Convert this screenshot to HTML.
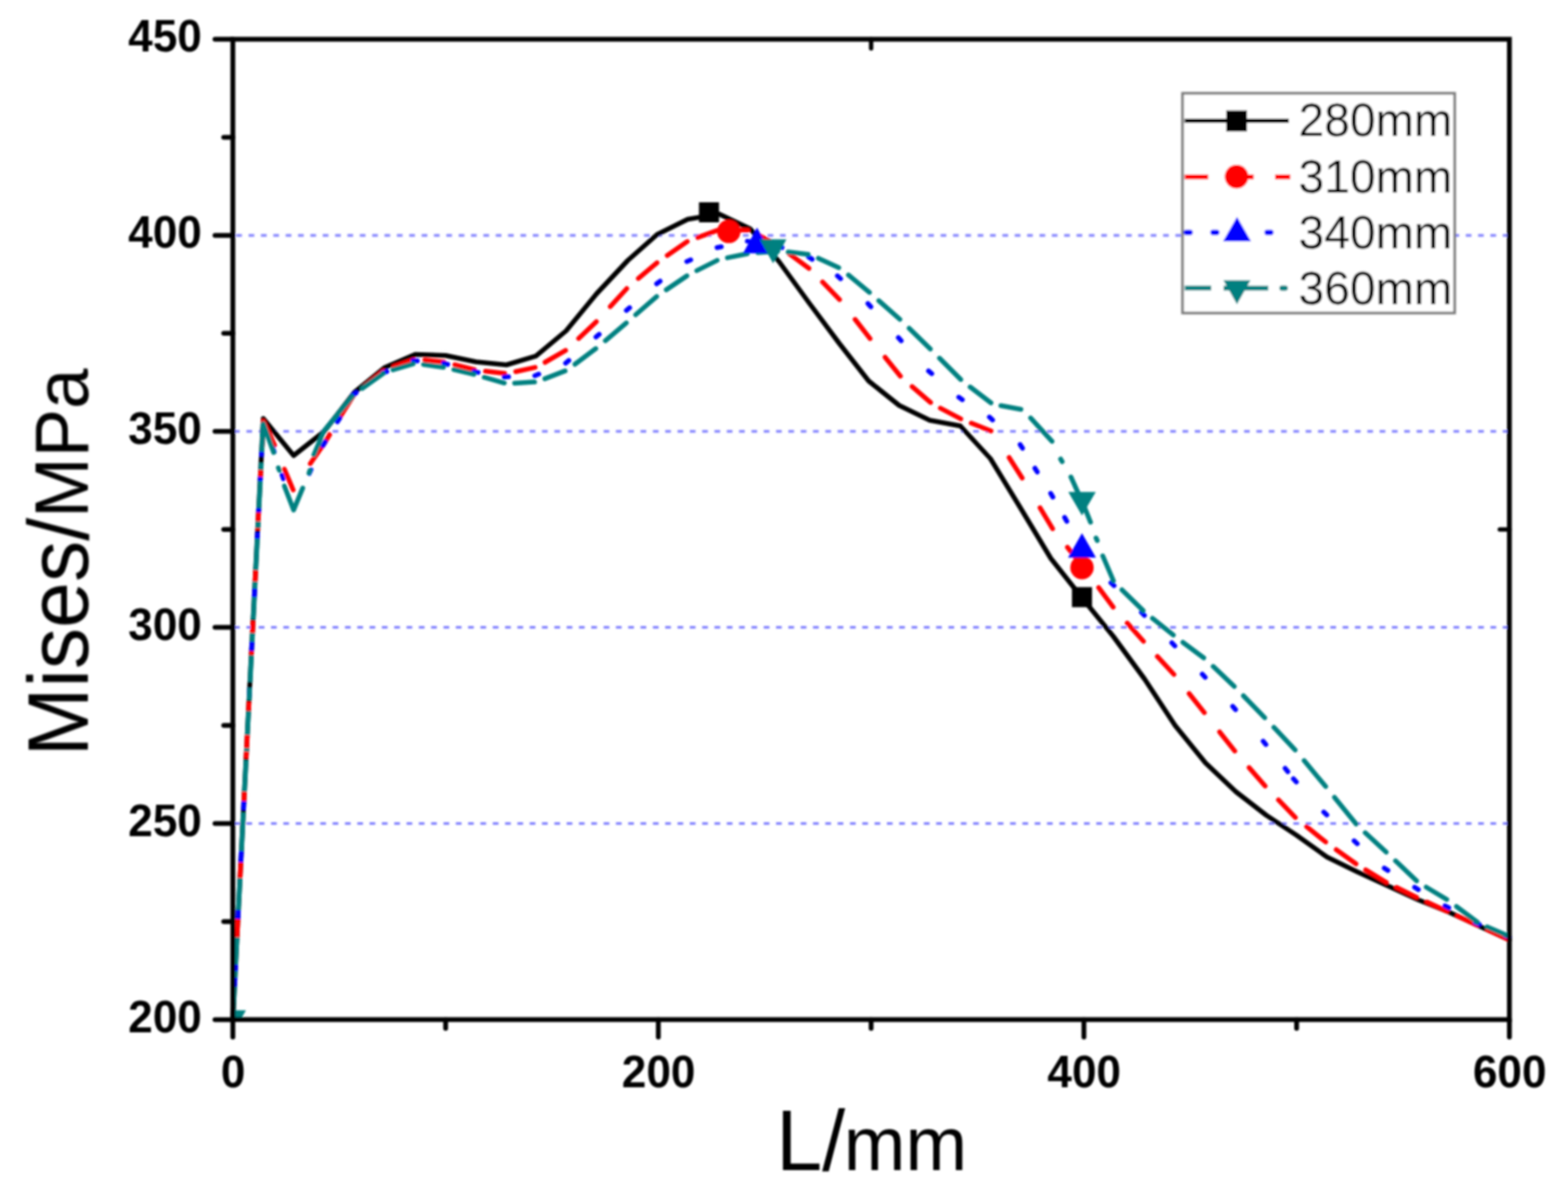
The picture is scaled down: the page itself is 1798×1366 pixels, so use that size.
<!DOCTYPE html>
<html><head><meta charset="utf-8"><title>Mises/MPa vs L/mm</title>
<style>html,body{margin:0;padding:0;background:#fff;}svg{display:block;}</style>
</head><body>
<svg width="1798" height="1366" viewBox="0 0 1798 1366">
<rect width="1798" height="1366" fill="#fff"/>
<defs><filter id="soft" x="0" y="0" width="1798" height="1366" filterUnits="userSpaceOnUse"><feGaussianBlur stdDeviation="0.85"/></filter><clipPath id="plotclip"><rect x="267" y="45" width="1463.8" height="1124.4"/></clipPath></defs>
<g filter="url(#soft)">
<path d="M268.4 944.5H274.9M282.6 944.5H289.1M296.7 944.5H303.2M310.8 944.5H317.3M324.9 944.5H331.4M339.1 944.5H345.6M353.2 944.5H359.7M367.3 944.5H373.8M381.4 944.5H387.9M395.6 944.5H402.1M409.7 944.5H416.2M423.8 944.5H430.3M437.9 944.5H444.4M452.1 944.5H458.6M466.2 944.5H472.7M480.3 944.5H486.8M494.4 944.5H500.9M508.6 944.5H515.1M522.7 944.5H529.2M536.8 944.5H543.3M550.9 944.5H557.4M565.1 944.5H571.6M579.2 944.5H585.7M593.3 944.5H599.8M607.4 944.5H613.9M621.5 944.5H628M635.7 944.5H642.2M649.8 944.5H656.3M663.9 944.5H670.4M678 944.5H684.5M692.2 944.5H698.7M706.3 944.5H712.8M720.4 944.5H726.9M734.5 944.5H741M748.7 944.5H755.2M762.8 944.5H769.3M776.9 944.5H783.4M791 944.5H797.5M805.2 944.5H811.7M819.3 944.5H825.8M833.4 944.5H839.9M847.5 944.5H854M861.7 944.5H868.2M875.8 944.5H882.3M889.9 944.5H896.4M904 944.5H910.5M918.2 944.5H924.7M932.3 944.5H938.8M946.4 944.5H952.9M960.5 944.5H967M974.7 944.5H981.2M988.8 944.5H995.3M1002.9 944.5H1009.4M1017 944.5H1023.5M1031.1 944.5H1037.6M1045.3 944.5H1051.8M1059.4 944.5H1065.9M1073.5 944.5H1080M1087.6 944.5H1094.1M1101.8 944.5H1108.3M1115.9 944.5H1122.4M1130 944.5H1136.5M1144.1 944.5H1150.6M1158.3 944.5H1164.8M1172.4 944.5H1178.9M1186.5 944.5H1193M1200.6 944.5H1207.1M1214.8 944.5H1221.3M1228.9 944.5H1235.4M1243 944.5H1249.5M1257.1 944.5H1263.6M1271.3 944.5H1277.8M1285.4 944.5H1291.9M1299.5 944.5H1306M1313.6 944.5H1320.1M1327.8 944.5H1334.2M1341.9 944.5H1348.4M1356 944.5H1362.5M1370.1 944.5H1376.6M1384.2 944.5H1390.7M1398.4 944.5H1404.9M1412.5 944.5H1419M1426.6 944.5H1433.1M1440.7 944.5H1447.2M1454.9 944.5H1461.4M1469 944.5H1475.5M1483.1 944.5H1489.6M1497.2 944.5H1503.7M1511.4 944.5H1517.9M1525.5 944.5H1532M1539.6 944.5H1546.1M1553.7 944.5H1560.2M1567.9 944.5H1574.4M1582 944.5H1588.5M1596.1 944.5H1602.6M1610.2 944.5H1616.7M1624.4 944.5H1630.9M1638.5 944.5H1645M1652.6 944.5H1659.1M1666.7 944.5H1673.2M1680.9 944.5H1687.4M1695 944.5H1701.5M1709.1 944.5H1715.6M1723.2 944.5H1729.7" stroke="#8080ff" stroke-width="3" fill="none"/>
<path d="M268.4 719.6H274.9M282.6 719.6H289.1M296.7 719.6H303.2M310.8 719.6H317.3M324.9 719.6H331.4M339.1 719.6H345.6M353.2 719.6H359.7M367.3 719.6H373.8M381.4 719.6H387.9M395.6 719.6H402.1M409.7 719.6H416.2M423.8 719.6H430.3M437.9 719.6H444.4M452.1 719.6H458.6M466.2 719.6H472.7M480.3 719.6H486.8M494.4 719.6H500.9M508.6 719.6H515.1M522.7 719.6H529.2M536.8 719.6H543.3M550.9 719.6H557.4M565.1 719.6H571.6M579.2 719.6H585.7M593.3 719.6H599.8M607.4 719.6H613.9M621.5 719.6H628M635.7 719.6H642.2M649.8 719.6H656.3M663.9 719.6H670.4M678 719.6H684.5M692.2 719.6H698.7M706.3 719.6H712.8M720.4 719.6H726.9M734.5 719.6H741M748.7 719.6H755.2M762.8 719.6H769.3M776.9 719.6H783.4M791 719.6H797.5M805.2 719.6H811.7M819.3 719.6H825.8M833.4 719.6H839.9M847.5 719.6H854M861.7 719.6H868.2M875.8 719.6H882.3M889.9 719.6H896.4M904 719.6H910.5M918.2 719.6H924.7M932.3 719.6H938.8M946.4 719.6H952.9M960.5 719.6H967M974.7 719.6H981.2M988.8 719.6H995.3M1002.9 719.6H1009.4M1017 719.6H1023.5M1031.1 719.6H1037.6M1045.3 719.6H1051.8M1059.4 719.6H1065.9M1073.5 719.6H1080M1087.6 719.6H1094.1M1101.8 719.6H1108.3M1115.9 719.6H1122.4M1130 719.6H1136.5M1144.1 719.6H1150.6M1158.3 719.6H1164.8M1172.4 719.6H1178.9M1186.5 719.6H1193M1200.6 719.6H1207.1M1214.8 719.6H1221.3M1228.9 719.6H1235.4M1243 719.6H1249.5M1257.1 719.6H1263.6M1271.3 719.6H1277.8M1285.4 719.6H1291.9M1299.5 719.6H1306M1313.6 719.6H1320.1M1327.8 719.6H1334.2M1341.9 719.6H1348.4M1356 719.6H1362.5M1370.1 719.6H1376.6M1384.2 719.6H1390.7M1398.4 719.6H1404.9M1412.5 719.6H1419M1426.6 719.6H1433.1M1440.7 719.6H1447.2M1454.9 719.6H1461.4M1469 719.6H1475.5M1483.1 719.6H1489.6M1497.2 719.6H1503.7M1511.4 719.6H1517.9M1525.5 719.6H1532M1539.6 719.6H1546.1M1553.7 719.6H1560.2M1567.9 719.6H1574.4M1582 719.6H1588.5M1596.1 719.6H1602.6M1610.2 719.6H1616.7M1624.4 719.6H1630.9M1638.5 719.6H1645M1652.6 719.6H1659.1M1666.7 719.6H1673.2M1680.9 719.6H1687.4M1695 719.6H1701.5M1709.1 719.6H1715.6M1723.2 719.6H1729.7" stroke="#8080ff" stroke-width="3" fill="none"/>
<path d="M268.4 494.8H274.9M282.6 494.8H289.1M296.7 494.8H303.2M310.8 494.8H317.3M324.9 494.8H331.4M339.1 494.8H345.6M353.2 494.8H359.7M367.3 494.8H373.8M381.4 494.8H387.9M395.6 494.8H402.1M409.7 494.8H416.2M423.8 494.8H430.3M437.9 494.8H444.4M452.1 494.8H458.6M466.2 494.8H472.7M480.3 494.8H486.8M494.4 494.8H500.9M508.6 494.8H515.1M522.7 494.8H529.2M536.8 494.8H543.3M550.9 494.8H557.4M565.1 494.8H571.6M579.2 494.8H585.7M593.3 494.8H599.8M607.4 494.8H613.9M621.5 494.8H628M635.7 494.8H642.2M649.8 494.8H656.3M663.9 494.8H670.4M678 494.8H684.5M692.2 494.8H698.7M706.3 494.8H712.8M720.4 494.8H726.9M734.5 494.8H741M748.7 494.8H755.2M762.8 494.8H769.3M776.9 494.8H783.4M791 494.8H797.5M805.2 494.8H811.7M819.3 494.8H825.8M833.4 494.8H839.9M847.5 494.8H854M861.7 494.8H868.2M875.8 494.8H882.3M889.9 494.8H896.4M904 494.8H910.5M918.2 494.8H924.7M932.3 494.8H938.8M946.4 494.8H952.9M960.5 494.8H967M974.7 494.8H981.2M988.8 494.8H995.3M1002.9 494.8H1009.4M1017 494.8H1023.5M1031.1 494.8H1037.6M1045.3 494.8H1051.8M1059.4 494.8H1065.9M1073.5 494.8H1080M1087.6 494.8H1094.1M1101.8 494.8H1108.3M1115.9 494.8H1122.4M1130 494.8H1136.5M1144.1 494.8H1150.6M1158.3 494.8H1164.8M1172.4 494.8H1178.9M1186.5 494.8H1193M1200.6 494.8H1207.1M1214.8 494.8H1221.3M1228.9 494.8H1235.4M1243 494.8H1249.5M1257.1 494.8H1263.6M1271.3 494.8H1277.8M1285.4 494.8H1291.9M1299.5 494.8H1306M1313.6 494.8H1320.1M1327.8 494.8H1334.2M1341.9 494.8H1348.4M1356 494.8H1362.5M1370.1 494.8H1376.6M1384.2 494.8H1390.7M1398.4 494.8H1404.9M1412.5 494.8H1419M1426.6 494.8H1433.1M1440.7 494.8H1447.2M1454.9 494.8H1461.4M1469 494.8H1475.5M1483.1 494.8H1489.6M1497.2 494.8H1503.7M1511.4 494.8H1517.9M1525.5 494.8H1532M1539.6 494.8H1546.1M1553.7 494.8H1560.2M1567.9 494.8H1574.4M1582 494.8H1588.5M1596.1 494.8H1602.6M1610.2 494.8H1616.7M1624.4 494.8H1630.9M1638.5 494.8H1645M1652.6 494.8H1659.1M1666.7 494.8H1673.2M1680.9 494.8H1687.4M1695 494.8H1701.5M1709.1 494.8H1715.6M1723.2 494.8H1729.7" stroke="#8080ff" stroke-width="3" fill="none"/>
<path d="M270.9 269.9H277.4M285.1 269.9H291.6M299.2 269.9H305.8M313.4 269.9H319.9M327.6 269.9H334.1M341.8 269.9H348.3M355.9 269.9H362.4M370.1 269.9H376.6M384.3 269.9H390.8M398.4 269.9H404.9M412.6 269.9H419.1M426.8 269.9H433.3M440.9 269.9H447.4M455.1 269.9H461.6M469.3 269.9H475.8M483.5 269.9H490M497.6 269.9H504.1M511.8 269.9H518.3M526 269.9H532.5M540.1 269.9H546.6M554.3 269.9H560.8M568.5 269.9H575M582.6 269.9H589.1M596.8 269.9H603.3M611 269.9H617.5M625.2 269.9H631.7M639.3 269.9H645.8M653.5 269.9H660M667.7 269.9H674.2M681.8 269.9H688.3M696 269.9H702.5M710.2 269.9H716.7M724.3 269.9H730.8M738.5 269.9H745M752.7 269.9H759.2M766.9 269.9H773.4M781 269.9H787.5M795.2 269.9H801.7M809.4 269.9H815.9M823.5 269.9H830M837.7 269.9H844.2M851.9 269.9H858.4M866 269.9H872.5M880.2 269.9H886.7M894.4 269.9H900.9M908.6 269.9H915.1M922.7 269.9H929.2M936.9 269.9H943.4M951.1 269.9H957.6M965.2 269.9H971.7M979.4 269.9H985.9M993.6 269.9H1000.1M1007.8 269.9H1014.2M1021.9 269.9H1028.4M1036.1 269.9H1042.6M1050.3 269.9H1056.8M1064.4 269.9H1070.9M1078.6 269.9H1085.1M1092.8 269.9H1099.3M1106.9 269.9H1113.4M1121.1 269.9H1127.6M1135.3 269.9H1141.8M1149.5 269.9H1156M1163.6 269.9H1170.1M1177.8 269.9H1184.3M1192 269.9H1198.5M1206.1 269.9H1212.6M1220.3 269.9H1226.8M1234.5 269.9H1241M1248.6 269.9H1255.1M1262.8 269.9H1269.3M1277 269.9H1283.5M1291.2 269.9H1297.7M1305.3 269.9H1311.8M1319.5 269.9H1326M1333.7 269.9H1340.2M1347.8 269.9H1354.3" stroke="#8080ff" stroke-width="3" fill="none"/>
<path d="M1668 269.9H1673.2M1680.8 269.9H1687.3M1694.9 269.9H1701.4M1709 269.9H1715.5M1723.2 269.9H1729.7" stroke="#8080ff" stroke-width="3" fill="none"/>
<path d="M267 1169.4 L301.9 480 L336.7 522.5 L371.6 495 L406.4 450 L441.3 421.5 L476.1 406.6 L511 407.7 L545.8 415 L580.7 418.5 L614.5 408.4 L649.1 379.5 L684 337 L720.1 298.5 L753.4 269 L788.6 251.5 L824.6 245.4 L860.3 262.5 L893.3 300 L928.2 348 L962.5 394 L996.1 437 L1031.1 465 L1066.1 482 L1101.2 488.5 L1135.7 526 L1170.4 583 L1205 640.5 L1240.6 685.5 L1276.7 730 L1312.6 779 L1347.4 832 L1382.3 875 L1417.1 908 L1452 935 L1486.8 958 L1521.7 983 L1556.5 1000 L1591.4 1016 L1626.2 1032 L1661.1 1046 L1695.9 1062 L1730.8 1078" fill="none" stroke="#000000" stroke-width="5.5" stroke-linejoin="round" stroke-linecap="round"/>
<line x1="299" y1="539" x2="298.6" y2="547" stroke="#ff0000" stroke-width="5.5" stroke-linecap="butt"/>
<line x1="296.5" y1="587.6" x2="296" y2="598" stroke="#ff0000" stroke-width="5.5" stroke-linecap="butt"/>
<line x1="295.6" y1="605.5" x2="295.5" y2="608" stroke="#ff0000" stroke-width="5.5" stroke-linecap="butt"/>
<line x1="293.2" y1="654" x2="292.5" y2="667" stroke="#ff0000" stroke-width="5.5" stroke-linecap="butt"/>
<line x1="290.2" y1="712" x2="289.5" y2="726" stroke="#ff0000" stroke-width="5.5" stroke-linecap="butt"/>
<line x1="288.5" y1="746.5" x2="288.2" y2="751.6" stroke="#ff0000" stroke-width="5.5" stroke-linecap="butt"/>
<line x1="285.5" y1="805" x2="285" y2="815.6" stroke="#ff0000" stroke-width="5.5" stroke-linecap="butt"/>
<line x1="283.6" y1="843" x2="282.2" y2="870" stroke="#ff0000" stroke-width="5.5" stroke-linecap="butt"/>
<line x1="280.3" y1="908" x2="279.7" y2="919" stroke="#ff0000" stroke-width="5.5" stroke-linecap="butt"/>
<line x1="276.2" y1="989" x2="275.2" y2="1007" stroke="#ff0000" stroke-width="5.5" stroke-linecap="butt"/>
<line x1="272.9" y1="1054" x2="271.8" y2="1075" stroke="#ff0000" stroke-width="5.5" stroke-linecap="butt"/>
<line x1="417.9" y1="442.8" x2="439.7" y2="425.3" stroke="#ff0000" stroke-width="5.5" stroke-linecap="round"/>
<line x1="451.7" y1="420.4" x2="474.2" y2="412.7" stroke="#ff0000" stroke-width="5.5" stroke-linecap="round"/>
<line x1="487.1" y1="413.1" x2="509" y2="415.3" stroke="#ff0000" stroke-width="5.5" stroke-linecap="round"/>
<line x1="521.6" y1="418.3" x2="543.9" y2="424" stroke="#ff0000" stroke-width="5.5" stroke-linecap="round"/>
<line x1="556.7" y1="425.8" x2="578.7" y2="428.3" stroke="#ff0000" stroke-width="5.5" stroke-linecap="round"/>
<line x1="591.4" y1="426.2" x2="613.6" y2="421.4" stroke="#ff0000" stroke-width="5.5" stroke-linecap="round"/>
<line x1="625" y1="415.5" x2="648.6" y2="401.8" stroke="#ff0000" stroke-width="5.5" stroke-linecap="round"/>
<line x1="663.5" y1="388.2" x2="683.8" y2="368.9" stroke="#ff0000" stroke-width="5.5" stroke-linecap="round"/>
<line x1="699.8" y1="351.6" x2="718.7" y2="331" stroke="#ff0000" stroke-width="5.5" stroke-linecap="round"/>
<line x1="732" y1="319.4" x2="753.4" y2="301.3" stroke="#ff0000" stroke-width="5.5" stroke-linecap="round"/>
<line x1="765.1" y1="293" x2="788.1" y2="277.1" stroke="#ff0000" stroke-width="5.5" stroke-linecap="round"/>
<line x1="800.1" y1="272.3" x2="822.8" y2="264.2" stroke="#ff0000" stroke-width="5.5" stroke-linecap="round"/>
<line x1="835.6" y1="263.7" x2="857.5" y2="264" stroke="#ff0000" stroke-width="5.5" stroke-linecap="round"/>
<line x1="869.1" y1="269.3" x2="892.6" y2="282" stroke="#ff0000" stroke-width="5.5" stroke-linecap="round"/>
<line x1="905.1" y1="291.1" x2="927.6" y2="307.8" stroke="#ff0000" stroke-width="5.5" stroke-linecap="round"/>
<line x1="943.2" y1="323.4" x2="962.7" y2="343.6" stroke="#ff0000" stroke-width="5.5" stroke-linecap="round"/>
<line x1="980.5" y1="366.3" x2="997.7" y2="388.4" stroke="#ff0000" stroke-width="5.5" stroke-linecap="round"/>
<line x1="1014.9" y1="409.7" x2="1032.5" y2="431.4" stroke="#ff0000" stroke-width="5.5" stroke-linecap="round"/>
<line x1="1045.9" y1="443.4" x2="1067.1" y2="461.7" stroke="#ff0000" stroke-width="5.5" stroke-linecap="round"/>
<line x1="1078.3" y1="468.1" x2="1101.7" y2="480.4" stroke="#ff0000" stroke-width="5.5" stroke-linecap="round"/>
<line x1="1113.7" y1="485.3" x2="1136.4" y2="494.3" stroke="#ff0000" stroke-width="5.5" stroke-linecap="round"/>
<line x1="1157.1" y1="524.7" x2="1172.1" y2="548.3" stroke="#ff0000" stroke-width="5.5" stroke-linecap="round"/>
<line x1="1192.6" y1="582.3" x2="1207" y2="606.3" stroke="#ff0000" stroke-width="5.5" stroke-linecap="round"/>
<line x1="1224" y1="627.7" x2="1241.6" y2="649.4" stroke="#ff0000" stroke-width="5.5" stroke-linecap="round"/>
<line x1="1259.8" y1="673.9" x2="1276.5" y2="696.4" stroke="#ff0000" stroke-width="5.5" stroke-linecap="round"/>
<line x1="1292.6" y1="714.6" x2="1311.2" y2="735.5" stroke="#ff0000" stroke-width="5.5" stroke-linecap="round"/>
<line x1="1327.1" y1="752.9" x2="1346.1" y2="773.5" stroke="#ff0000" stroke-width="5.5" stroke-linecap="round"/>
<line x1="1363.6" y1="795.5" x2="1381" y2="817.4" stroke="#ff0000" stroke-width="5.5" stroke-linecap="round"/>
<line x1="1398.5" y1="839.5" x2="1415.9" y2="861.4" stroke="#ff0000" stroke-width="5.5" stroke-linecap="round"/>
<line x1="1432.3" y1="880.4" x2="1450.7" y2="901.5" stroke="#ff0000" stroke-width="5.5" stroke-linecap="round"/>
<line x1="1466" y1="917.4" x2="1485.4" y2="937.6" stroke="#ff0000" stroke-width="5.5" stroke-linecap="round"/>
<line x1="1498.3" y1="948.2" x2="1520.1" y2="965.7" stroke="#ff0000" stroke-width="5.5" stroke-linecap="round"/>
<line x1="1532.2" y1="974.5" x2="1554.9" y2="990.8" stroke="#ff0000" stroke-width="5.5" stroke-linecap="round"/>
<line x1="1566" y1="997.7" x2="1589.7" y2="1012" stroke="#ff0000" stroke-width="5.5" stroke-linecap="round"/>
<line x1="1601.3" y1="1017.8" x2="1624.4" y2="1029.1" stroke="#ff0000" stroke-width="5.5" stroke-linecap="round"/>
<line x1="1636.2" y1="1034.6" x2="1659.3" y2="1045.2" stroke="#ff0000" stroke-width="5.5" stroke-linecap="round"/>
<line x1="1671.1" y1="1050.6" x2="1694.1" y2="1061.2" stroke="#ff0000" stroke-width="5.5" stroke-linecap="round"/>
<line x1="1705.9" y1="1066.6" x2="1729" y2="1077.2" stroke="#ff0000" stroke-width="5.5" stroke-linecap="round"/>
<polyline points="300.6,512 301.9,483 314.8,510.5" fill="none" stroke="#ff0000" stroke-width="5.5" stroke-linecap="round" stroke-linejoin="round"/>
<line x1="326.1" y1="538" x2="336.2" y2="562" stroke="#ff0000" stroke-width="5.5" stroke-linecap="round"/>
<polyline points="355.8,531.7 371.6,509 378,498.5" fill="none" stroke="#ff0000" stroke-width="5.5" stroke-linecap="round" stroke-linejoin="round"/>
<line x1="388.5" y1="480.5" x2="405.4" y2="453.5" stroke="#ff0000" stroke-width="5.5" stroke-linecap="round"/>
<line x1="300" y1="518" x2="299.7" y2="523.5" stroke="#0000ff" stroke-width="5.5" stroke-linecap="butt"/>
<line x1="298.6" y1="547" x2="298.3" y2="552" stroke="#0000ff" stroke-width="5.5" stroke-linecap="butt"/>
<line x1="296.8" y1="582.5" x2="296.5" y2="587.6" stroke="#0000ff" stroke-width="5.5" stroke-linecap="butt"/>
<line x1="295.3" y1="610.7" x2="295" y2="618" stroke="#0000ff" stroke-width="5.5" stroke-linecap="butt"/>
<line x1="292.1" y1="675" x2="291.6" y2="685" stroke="#0000ff" stroke-width="5.5" stroke-linecap="butt"/>
<line x1="289" y1="736" x2="288.4" y2="746.5" stroke="#0000ff" stroke-width="5.5" stroke-linecap="butt"/>
<line x1="286.3" y1="789" x2="285.7" y2="800" stroke="#0000ff" stroke-width="5.5" stroke-linecap="butt"/>
<line x1="279.7" y1="919" x2="279.2" y2="929" stroke="#0000ff" stroke-width="5.5" stroke-linecap="butt"/>
<line x1="276.8" y1="976" x2="276.1" y2="989" stroke="#0000ff" stroke-width="5.5" stroke-linecap="butt"/>
<line x1="273.4" y1="1043.5" x2="272.9" y2="1054" stroke="#0000ff" stroke-width="5.5" stroke-linecap="butt"/>
<line x1="270.2" y1="1106" x2="269.8" y2="1114" stroke="#0000ff" stroke-width="5.5" stroke-linecap="butt"/>
<line x1="269.5" y1="1121" x2="268.9" y2="1132" stroke="#0000ff" stroke-width="5.5" stroke-linecap="butt"/>
<line x1="370.3" y1="511.1" x2="372.9" y2="506.9" stroke="#0000ff" stroke-width="5.5" stroke-linecap="round"/>
<line x1="386.9" y1="483.8" x2="389.6" y2="479.6" stroke="#0000ff" stroke-width="5.5" stroke-linecap="round"/>
<line x1="404.4" y1="453.5" x2="408.4" y2="450.5" stroke="#0000ff" stroke-width="5.5" stroke-linecap="round"/>
<line x1="438.9" y1="427.9" x2="443.6" y2="426.1" stroke="#0000ff" stroke-width="5.5" stroke-linecap="round"/>
<line x1="473.6" y1="413.7" x2="478.6" y2="414.1" stroke="#0000ff" stroke-width="5.5" stroke-linecap="round"/>
<line x1="508.6" y1="416.6" x2="513.4" y2="418" stroke="#0000ff" stroke-width="5.5" stroke-linecap="round"/>
<line x1="543.4" y1="426.3" x2="548.3" y2="427.1" stroke="#0000ff" stroke-width="5.5" stroke-linecap="round"/>
<line x1="578.2" y1="432.5" x2="583.2" y2="432.1" stroke="#0000ff" stroke-width="5.5" stroke-linecap="round"/>
<line x1="613.2" y1="431" x2="617.8" y2="429" stroke="#0000ff" stroke-width="5.5" stroke-linecap="round"/>
<line x1="648.5" y1="416.6" x2="652.3" y2="413.4" stroke="#0000ff" stroke-width="5.5" stroke-linecap="round"/>
<line x1="683.3" y1="386.6" x2="687.1" y2="383.4" stroke="#0000ff" stroke-width="5.5" stroke-linecap="round"/>
<line x1="718.2" y1="356.1" x2="722" y2="352.9" stroke="#0000ff" stroke-width="5.5" stroke-linecap="round"/>
<line x1="752.9" y1="325.5" x2="757" y2="322.5" stroke="#0000ff" stroke-width="5.5" stroke-linecap="round"/>
<line x1="787.5" y1="300" x2="792.1" y2="298" stroke="#0000ff" stroke-width="5.5" stroke-linecap="round"/>
<line x1="822.2" y1="284" x2="827.1" y2="283" stroke="#0000ff" stroke-width="5.5" stroke-linecap="round"/>
<line x1="857" y1="276.6" x2="862" y2="277.4" stroke="#0000ff" stroke-width="5.5" stroke-linecap="round"/>
<line x1="892" y1="282.1" x2="896.7" y2="283.9" stroke="#0000ff" stroke-width="5.5" stroke-linecap="round"/>
<line x1="927.1" y1="294.6" x2="931.3" y2="297.4" stroke="#0000ff" stroke-width="5.5" stroke-linecap="round"/>
<line x1="960.2" y1="316.3" x2="963.9" y2="319.7" stroke="#0000ff" stroke-width="5.5" stroke-linecap="round"/>
<line x1="995.2" y1="348.1" x2="998.6" y2="351.9" stroke="#0000ff" stroke-width="5.5" stroke-linecap="round"/>
<line x1="1030.1" y1="387.2" x2="1033.4" y2="390.8" stroke="#0000ff" stroke-width="5.5" stroke-linecap="round"/>
<line x1="1064.7" y1="425.4" x2="1068.5" y2="428.6" stroke="#0000ff" stroke-width="5.5" stroke-linecap="round"/>
<line x1="1099.4" y1="455.6" x2="1103.5" y2="458.4" stroke="#0000ff" stroke-width="5.5" stroke-linecap="round"/>
<line x1="1134.5" y1="478.3" x2="1138.2" y2="481.7" stroke="#0000ff" stroke-width="5.5" stroke-linecap="round"/>
<line x1="1169.8" y1="509.9" x2="1172.5" y2="514.1" stroke="#0000ff" stroke-width="5.5" stroke-linecap="round"/>
<line x1="1186.7" y1="537" x2="1189.4" y2="541.3" stroke="#0000ff" stroke-width="5.5" stroke-linecap="round"/>
<line x1="1204.8" y1="565.8" x2="1207.3" y2="570.2" stroke="#0000ff" stroke-width="5.5" stroke-linecap="round"/>
<line x1="1220.8" y1="593.5" x2="1223.3" y2="597.8" stroke="#0000ff" stroke-width="5.5" stroke-linecap="round"/>
<line x1="1239.3" y1="626.1" x2="1242.5" y2="629.9" stroke="#0000ff" stroke-width="5.5" stroke-linecap="round"/>
<line x1="1273.9" y1="668.3" x2="1277.5" y2="671.7" stroke="#0000ff" stroke-width="5.5" stroke-linecap="round"/>
<line x1="1308.8" y1="702.2" x2="1312.3" y2="705.8" stroke="#0000ff" stroke-width="5.5" stroke-linecap="round"/>
<line x1="1343.7" y1="737.2" x2="1347.2" y2="740.8" stroke="#0000ff" stroke-width="5.5" stroke-linecap="round"/>
<line x1="1378.6" y1="773.2" x2="1382" y2="776.8" stroke="#0000ff" stroke-width="5.5" stroke-linecap="round"/>
<line x1="1413.5" y1="810.1" x2="1416.8" y2="813.9" stroke="#0000ff" stroke-width="5.5" stroke-linecap="round"/>
<line x1="1448.4" y1="850.1" x2="1451.6" y2="853.9" stroke="#0000ff" stroke-width="5.5" stroke-linecap="round"/>
<line x1="1473.6" y1="881.1" x2="1476.7" y2="885" stroke="#0000ff" stroke-width="5.5" stroke-linecap="round"/>
<line x1="1483.1" y1="893.2" x2="1486.5" y2="896.8" stroke="#0000ff" stroke-width="5.5" stroke-linecap="round"/>
<line x1="1517.9" y1="931.3" x2="1521.5" y2="934.7" stroke="#0000ff" stroke-width="5.5" stroke-linecap="round"/>
<line x1="1552.7" y1="964.3" x2="1556.4" y2="967.7" stroke="#0000ff" stroke-width="5.5" stroke-linecap="round"/>
<line x1="1587.3" y1="995.7" x2="1591.5" y2="998.3" stroke="#0000ff" stroke-width="5.5" stroke-linecap="round"/>
<line x1="1622.1" y1="1017.7" x2="1626.4" y2="1020.3" stroke="#0000ff" stroke-width="5.5" stroke-linecap="round"/>
<line x1="1656.9" y1="1038.8" x2="1661.3" y2="1041.2" stroke="#0000ff" stroke-width="5.5" stroke-linecap="round"/>
<line x1="1691.7" y1="1058" x2="1696.2" y2="1060" stroke="#0000ff" stroke-width="5.5" stroke-linecap="round"/>
<line x1="1726.2" y1="1073" x2="1730.8" y2="1075" stroke="#0000ff" stroke-width="5.5" stroke-linecap="round"/>
<line x1="313" y1="513.5" x2="314.6" y2="518.3" stroke="#0000ff" stroke-width="5" stroke-linecap="round"/>
<line x1="323.2" y1="544.7" x2="324.8" y2="549.5" stroke="#0000ff" stroke-width="5" stroke-linecap="round"/>
<line x1="354.7" y1="543.3" x2="356.9" y2="538.7" stroke="#0000ff" stroke-width="5" stroke-linecap="round"/>
<line x1="301.8" y1="488" x2="300.2" y2="518" stroke="#008080" stroke-width="5.5" stroke-linecap="butt"/>
<line x1="299.6" y1="531" x2="299.1" y2="539" stroke="#008080" stroke-width="5.5" stroke-linecap="butt"/>
<line x1="298.5" y1="552" x2="296.9" y2="582.5" stroke="#008080" stroke-width="5.5" stroke-linecap="butt"/>
<line x1="296.1" y1="598" x2="295.8" y2="605.5" stroke="#008080" stroke-width="5.5" stroke-linecap="butt"/>
<line x1="295.1" y1="618" x2="293.3" y2="654" stroke="#008080" stroke-width="5.5" stroke-linecap="butt"/>
<line x1="292.6" y1="667" x2="292.2" y2="675" stroke="#008080" stroke-width="5.5" stroke-linecap="butt"/>
<line x1="291.7" y1="685" x2="290.4" y2="710.6" stroke="#008080" stroke-width="5.5" stroke-linecap="butt"/>
<line x1="289.6" y1="726" x2="289.1" y2="736" stroke="#008080" stroke-width="5.5" stroke-linecap="butt"/>
<line x1="288.3" y1="751.6" x2="286.8" y2="782" stroke="#008080" stroke-width="5.5" stroke-linecap="butt"/>
<line x1="286.4" y1="789" x2="285.7" y2="803" stroke="#008080" stroke-width="5.5" stroke-linecap="butt"/>
<line x1="285" y1="815.6" x2="283.6" y2="843" stroke="#008080" stroke-width="5.5" stroke-linecap="butt"/>
<line x1="282.9" y1="858" x2="282.7" y2="862" stroke="#008080" stroke-width="5.5" stroke-linecap="butt"/>
<line x1="282.2" y1="872" x2="280.3" y2="908" stroke="#008080" stroke-width="5.5" stroke-linecap="butt"/>
<line x1="279.1" y1="932" x2="276.9" y2="976" stroke="#008080" stroke-width="5.5" stroke-linecap="butt"/>
<line x1="275.3" y1="1007" x2="273.4" y2="1043.5" stroke="#008080" stroke-width="5.5" stroke-linecap="butt"/>
<line x1="271.8" y1="1075" x2="270.2" y2="1106" stroke="#008080" stroke-width="5.5" stroke-linecap="butt"/>
<line x1="269.8" y1="1114" x2="269.5" y2="1121" stroke="#008080" stroke-width="5.5" stroke-linecap="butt"/>
<line x1="268.9" y1="1132" x2="267.2" y2="1166" stroke="#008080" stroke-width="5.5" stroke-linecap="butt"/>
<line x1="415.4" y1="445.5" x2="439.2" y2="428.5" stroke="#008080" stroke-width="5.5" stroke-linecap="round"/>
<line x1="450.6" y1="424.2" x2="473.7" y2="417.4" stroke="#008080" stroke-width="5.5" stroke-linecap="round"/>
<line x1="485.6" y1="418.1" x2="508.5" y2="421.3" stroke="#008080" stroke-width="5.5" stroke-linecap="round"/>
<line x1="520.4" y1="423.9" x2="543.4" y2="429.4" stroke="#008080" stroke-width="5.5" stroke-linecap="round"/>
<line x1="555.2" y1="432.7" x2="578.3" y2="439.3" stroke="#008080" stroke-width="5.5" stroke-linecap="round"/>
<line x1="590.1" y1="439.5" x2="613" y2="438.1" stroke="#008080" stroke-width="5.5" stroke-linecap="round"/>
<line x1="624.8" y1="434.4" x2="648" y2="425.4" stroke="#008080" stroke-width="5.5" stroke-linecap="round"/>
<line x1="659.3" y1="417.8" x2="683.2" y2="399.8" stroke="#008080" stroke-width="5.5" stroke-linecap="round"/>
<line x1="694.1" y1="390.8" x2="718.2" y2="370.3" stroke="#008080" stroke-width="5.5" stroke-linecap="round"/>
<line x1="728.9" y1="361" x2="753" y2="340.1" stroke="#008080" stroke-width="5.5" stroke-linecap="round"/>
<line x1="764" y1="332.4" x2="787.7" y2="316.4" stroke="#008080" stroke-width="5.5" stroke-linecap="round"/>
<line x1="799" y1="310.4" x2="822.4" y2="298.6" stroke="#008080" stroke-width="5.5" stroke-linecap="round"/>
<line x1="834.1" y1="295.6" x2="857" y2="291" stroke="#008080" stroke-width="5.5" stroke-linecap="round"/>
<line x1="869" y1="289.8" x2="891.8" y2="288.2" stroke="#008080" stroke-width="5.5" stroke-linecap="round"/>
<line x1="903.8" y1="289.1" x2="926.7" y2="291.7" stroke="#008080" stroke-width="5.5" stroke-linecap="round"/>
<line x1="938.4" y1="296.2" x2="961.8" y2="307" stroke="#008080" stroke-width="5.5" stroke-linecap="round"/>
<line x1="972.9" y1="315.4" x2="997" y2="335.4" stroke="#008080" stroke-width="5.5" stroke-linecap="round"/>
<line x1="1007.7" y1="344.9" x2="1031.9" y2="366.3" stroke="#008080" stroke-width="5.5" stroke-linecap="round"/>
<line x1="1042.5" y1="376.5" x2="1066.8" y2="400.3" stroke="#008080" stroke-width="5.5" stroke-linecap="round"/>
<line x1="1077.3" y1="410.8" x2="1101.7" y2="435.2" stroke="#008080" stroke-width="5.5" stroke-linecap="round"/>
<line x1="1112.4" y1="443.8" x2="1136.3" y2="462" stroke="#008080" stroke-width="5.5" stroke-linecap="round"/>
<line x1="1147.7" y1="465.3" x2="1170.7" y2="469.5" stroke="#008080" stroke-width="5.5" stroke-linecap="round"/>
<line x1="1181.8" y1="479.4" x2="1206.3" y2="506.2" stroke="#008080" stroke-width="5.5" stroke-linecap="round"/>
<line x1="1286.5" y1="676.5" x2="1310.8" y2="700.3" stroke="#008080" stroke-width="5.5" stroke-linecap="round"/>
<line x1="1321.5" y1="709.2" x2="1345.5" y2="728.4" stroke="#008080" stroke-width="5.5" stroke-linecap="round"/>
<line x1="1356.4" y1="736.7" x2="1380.3" y2="754.5" stroke="#008080" stroke-width="5.5" stroke-linecap="round"/>
<line x1="1391.1" y1="764.3" x2="1415.3" y2="787.3" stroke="#008080" stroke-width="5.5" stroke-linecap="round"/>
<line x1="1425.8" y1="798" x2="1450.2" y2="823.2" stroke="#008080" stroke-width="5.5" stroke-linecap="round"/>
<line x1="1460.7" y1="834.2" x2="1485.1" y2="860.2" stroke="#008080" stroke-width="5.5" stroke-linecap="round"/>
<line x1="1495.4" y1="872.3" x2="1520.1" y2="902.1" stroke="#008080" stroke-width="5.5" stroke-linecap="round"/>
<line x1="1530.2" y1="914.5" x2="1555" y2="945.1" stroke="#008080" stroke-width="5.5" stroke-linecap="round"/>
<line x1="1565.4" y1="955.1" x2="1589.5" y2="977.3" stroke="#008080" stroke-width="5.5" stroke-linecap="round"/>
<line x1="1600.2" y1="987.3" x2="1624.4" y2="1010.3" stroke="#008080" stroke-width="5.5" stroke-linecap="round"/>
<line x1="1635.4" y1="1017.5" x2="1659" y2="1031.7" stroke="#008080" stroke-width="5.5" stroke-linecap="round"/>
<line x1="1670.1" y1="1039.7" x2="1693.9" y2="1057.5" stroke="#008080" stroke-width="5.5" stroke-linecap="round"/>
<line x1="1705.2" y1="1063" x2="1728.5" y2="1073" stroke="#008080" stroke-width="5.5" stroke-linecap="round"/>
<polyline points="300.7,500 301.9,486 313.8,519" fill="none" stroke="#008080" stroke-width="5.5" stroke-linecap="round" stroke-linejoin="round"/>
<line x1="319.2" y1="536.5" x2="320.4" y2="539.5" stroke="#008080" stroke-width="5.5" stroke-linecap="round"/>
<polyline points="326.1,557.4 336.7,585 347.1,559.9" fill="none" stroke="#008080" stroke-width="5.5" stroke-linecap="round" stroke-linejoin="round"/>
<line x1="354.3" y1="542.5" x2="355.3" y2="539.5" stroke="#008080" stroke-width="5.5" stroke-linecap="round"/>
<polyline points="359.9,521.5 371.6,494 403.9,455" fill="none" stroke="#008080" stroke-width="5.5" stroke-linecap="round" stroke-linejoin="round"/>
<line x1="1216.2" y1="526.5" x2="1218" y2="529.5" stroke="#008080" stroke-width="5.5" stroke-linecap="round"/>
<polyline points="1228,547 1242.9,580 1250.5,599" fill="none" stroke="#008080" stroke-width="5.5" stroke-linecap="round" stroke-linejoin="round"/>
<line x1="1256.8" y1="617" x2="1258.2" y2="620" stroke="#008080" stroke-width="5.5" stroke-linecap="round"/>
<line x1="1264.5" y1="637.5" x2="1276.7" y2="666" stroke="#008080" stroke-width="5.5" stroke-linecap="round"/>
<rect x="801.5" y="232" width="23" height="23" fill="#000000"/>
<rect x="1229.2" y="673.4" width="23" height="23" fill="#000000"/>
<circle cx="835.7" cy="265.4" r="13.4" fill="#ff0000"/>
<circle cx="1240.7" cy="651.1" r="13.4" fill="#ff0000"/>
<polygon points="868.1,261.1 852.1,290.6 884.1,290.6" fill="#0000ff"/>
<polygon points="1240.7,611.5 1224.7,639.5 1256.7,639.5" fill="#0000ff"/>
<polygon points="871.2,274.6 901.8,274.6 886.5,302.1" fill="#008080"/>
<polygon points="1225,564.3 1256.5,564.3 1240.7,591.3" fill="#008080"/>
<g clip-path="url(#plotclip)">
<polygon points="252,1158.8 282,1158.8 267,1185.2" fill="#008080"/>
</g>
<rect x="267" y="45" width="1463.8" height="1124.4" fill="none" stroke="#000" stroke-width="5.5"/>
<line x1="246.5" y1="1169.4" x2="267" y2="1169.4" stroke="#000" stroke-width="5.5" stroke-linecap="round"/>
<line x1="256.5" y1="1057" x2="267" y2="1057" stroke="#000" stroke-width="5.5" stroke-linecap="round"/>
<line x1="246.5" y1="944.5" x2="267" y2="944.5" stroke="#000" stroke-width="5.5" stroke-linecap="round"/>
<line x1="256.5" y1="832.1" x2="267" y2="832.1" stroke="#000" stroke-width="5.5" stroke-linecap="round"/>
<line x1="246.5" y1="719.6" x2="267" y2="719.6" stroke="#000" stroke-width="5.5" stroke-linecap="round"/>
<line x1="256.5" y1="607.2" x2="267" y2="607.2" stroke="#000" stroke-width="5.5" stroke-linecap="round"/>
<line x1="246.5" y1="494.8" x2="267" y2="494.8" stroke="#000" stroke-width="5.5" stroke-linecap="round"/>
<line x1="256.5" y1="382.3" x2="267" y2="382.3" stroke="#000" stroke-width="5.5" stroke-linecap="round"/>
<line x1="246.5" y1="269.9" x2="267" y2="269.9" stroke="#000" stroke-width="5.5" stroke-linecap="round"/>
<line x1="256.5" y1="157.4" x2="267" y2="157.4" stroke="#000" stroke-width="5.5" stroke-linecap="round"/>
<line x1="246.5" y1="45" x2="267" y2="45" stroke="#000" stroke-width="5.5" stroke-linecap="round"/>
<line x1="267" y1="1169.4" x2="267" y2="1189.4" stroke="#000" stroke-width="5.5" stroke-linecap="round"/>
<line x1="511" y1="1169.4" x2="511" y2="1179.4" stroke="#000" stroke-width="5.5" stroke-linecap="round"/>
<line x1="754.9" y1="1169.4" x2="754.9" y2="1189.4" stroke="#000" stroke-width="5.5" stroke-linecap="round"/>
<line x1="998.9" y1="1169.4" x2="998.9" y2="1179.4" stroke="#000" stroke-width="5.5" stroke-linecap="round"/>
<line x1="1242.9" y1="1169.4" x2="1242.9" y2="1189.4" stroke="#000" stroke-width="5.5" stroke-linecap="round"/>
<line x1="1486.8" y1="1169.4" x2="1486.8" y2="1179.4" stroke="#000" stroke-width="5.5" stroke-linecap="round"/>
<line x1="1730.8" y1="1169.4" x2="1730.8" y2="1189.4" stroke="#000" stroke-width="5.5" stroke-linecap="round"/>
<line x1="998.9" y1="45" x2="998.9" y2="55.5" stroke="#000" stroke-width="5" stroke-linecap="round"/>
<line x1="1719.8" y1="607.2" x2="1730.8" y2="607.2" stroke="#000" stroke-width="5" stroke-linecap="round"/>
<rect x="1356" y="107" width="312" height="252" fill="#fff" stroke="#7a7a7a" stroke-width="3"/>
<line x1="1358.5" y1="138.5" x2="1478" y2="138.5" stroke="#000000" stroke-width="5" stroke-linecap="butt"/>
<rect x="1406" y="126.7" width="24" height="24" fill="#000000"/>
<line x1="1358.5" y1="202.9" x2="1385.4" y2="202.9" stroke="#ff0000" stroke-width="5.5" stroke-linecap="butt"/>
<line x1="1418" y1="202.9" x2="1437.5" y2="202.9" stroke="#ff0000" stroke-width="5.5" stroke-linecap="butt"/>
<line x1="1462" y1="202.9" x2="1479.5" y2="202.9" stroke="#ff0000" stroke-width="5.5" stroke-linecap="butt"/>
<circle cx="1418" cy="202.6" r="13.6" fill="#ff0000"/>
<line x1="1360.3" y1="266.6" x2="1364.7" y2="266.6" stroke="#0000ff" stroke-width="6.2" stroke-linecap="round"/>
<line x1="1390.9" y1="266.6" x2="1395.3" y2="266.6" stroke="#0000ff" stroke-width="6.2" stroke-linecap="round"/>
<line x1="1452.9" y1="266.6" x2="1457.3" y2="266.6" stroke="#0000ff" stroke-width="6.2" stroke-linecap="round"/>
<polygon points="1418.5,248.7 1402.5,276.7 1434.5,276.7" fill="#0000ff"/>
<line x1="1358.6" y1="330.4" x2="1388.9" y2="330.4" stroke="#008080" stroke-width="5.5" stroke-linecap="butt"/>
<line x1="1403" y1="330.4" x2="1454.3" y2="330.4" stroke="#008080" stroke-width="5.5" stroke-linecap="butt"/>
<line x1="1470" y1="330.4" x2="1473.8" y2="330.4" stroke="#008080" stroke-width="6" stroke-linecap="round"/>
<polygon points="1402.9,321.4 1433.9,321.4 1418.4,348.9" fill="#008080"/>
<g font-family="'Liberation Sans', Arial, Helvetica, sans-serif" font-size="52.86" fill="#000">
<text transform="translate(1489.1,156.4) scale(1,1.03)">280mm</text>
<text transform="translate(1489.1,220.5) scale(1,1.03)">310mm</text>
<text transform="translate(1489.1,284.6) scale(1,1.03)">340mm</text>
<text transform="translate(1489.1,348.6) scale(1,1.03)">360mm</text>
</g>
<g font-family="'Liberation Sans', Arial, Helvetica, sans-serif" font-weight="bold" font-size="50.6" fill="#000">
<text transform="translate(231.5,1183.6) scale(1,1.035)" text-anchor="end">200</text>
<text transform="translate(231.5,958.7) scale(1,1.035)" text-anchor="end">250</text>
<text transform="translate(231.5,733.8) scale(1,1.035)" text-anchor="end">300</text>
<text transform="translate(231.5,509) scale(1,1.035)" text-anchor="end">350</text>
<text transform="translate(231.5,284.1) scale(1,1.035)" text-anchor="end">400</text>
<text transform="translate(231.5,59.2) scale(1,1.035)" text-anchor="end">450</text>
<text transform="translate(267.3,1246.6) scale(1,1.037)" text-anchor="middle">0</text>
<text transform="translate(755.2,1246.6) scale(1,1.037)" text-anchor="middle">200</text>
<text transform="translate(1243.2,1246.6) scale(1,1.037)" text-anchor="middle">400</text>
<text transform="translate(1731.1,1246.6) scale(1,1.037)" text-anchor="middle">600</text>
</g>
<text font-family="'Liberation Sans', Arial, Helvetica, sans-serif" fill="#000" transform="translate(889.9,1341.8) scale(1,1.035)"><tspan font-size="95">L/</tspan><tspan font-size="85" dx="-1.7">mm</tspan></text>
<text font-family="'Liberation Sans', Arial, Helvetica, sans-serif" fill="#000" transform="translate(100.8,867.5) rotate(-90) scale(1,1.035)"><tspan font-size="94.7">Mises/</tspan><tspan font-size="83.3">MPa</tspan></text>
</g>
</svg>
</body></html>
